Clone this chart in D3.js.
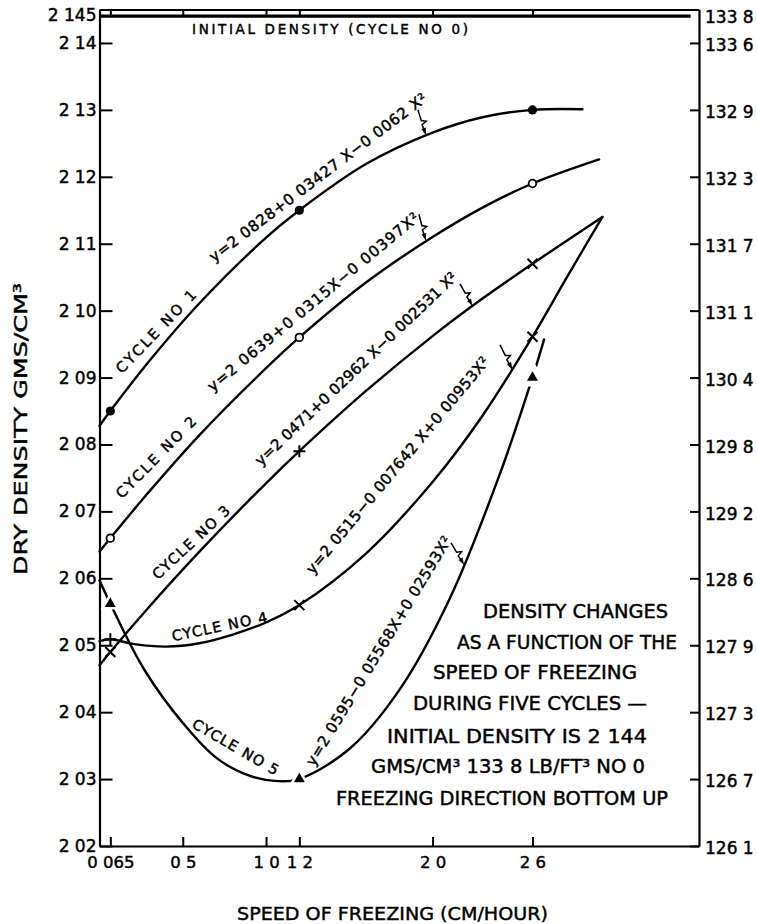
<!DOCTYPE html>
<html><head><meta charset="utf-8">
<script src="https://cdn.jsdelivr.net/npm/d3@7"></script>
<style>
html,body{margin:0;padding:0;background:#fff;}
svg{display:block;font-family:"DejaVu Sans",sans-serif;}
</style></head><body>
<svg id="chart" width="757" height="924"></svg>
<script>
// ---------------- data ----------------
const markerSpeeds = [0.065, 1.2, 2.6];
const cycle0 = [[0, 2.144], [3.55, 2.144]];
const cycle1 = [[0,2.0828],[0.065,2.0850],[0.3,2.0925],[0.6,2.1011],[1.0,2.1109],[1.2,2.1150],[1.6,2.1219],[2.0,2.1266],[2.3,2.1289],[2.6,2.1300],[2.9,2.1301]];
const cycle2 = [[0,2.0640],[0.065,2.0660],[0.3,2.0730],[0.6,2.0814],[1.0,2.0914],[1.2,2.0960],[1.6,2.1042],[2.0,2.1110],[2.3,2.1154],[2.6,2.1190],[3.0,2.1226]];
const cycle3 = [[0,2.0470],[0.065,2.0490],[0.3,2.0558],[0.6,2.0640],[1.0,2.0742],[1.2,2.0790],[1.6,2.0880],[2.0,2.0962],[2.3,2.1018],[2.6,2.1070],[3.02,2.1140]];
const cycle4 = [[0,2.0506],[0.065,2.0509],[0.2,2.0502],[0.4,2.0498],[0.6,2.0503],[0.8,2.0516],[1.0,2.0534],[1.2,2.0560],[1.6,2.0637],[2.0,2.0744],[2.3,2.0843],[2.6,2.0961],[2.8,2.1047],[3.02,2.1140]];
const cycle5 = [[0,2.0597],[0.065,2.0562],[0.27,2.0463],[0.5,2.0384],[0.7,2.0332],[0.9,2.0305],[1.07,2.0297],[1.2,2.0300],[1.5,2.0345],[1.8,2.0433],[2.1,2.0568],[2.4,2.0753],[2.6,2.0900],[2.67,2.0957]];

const yTickValues = [2.02,2.03,2.04,2.05,2.06,2.07,2.08,2.09,2.10,2.11,2.12,2.13,2.14,2.145];
const yTickLabels = ["2 02","2 03","2 04","2 05","2 06","2 07","2 08","2 09","2 10","2 11","2 12","2 13","2 14","2 145"];
const yRightLabels = ["126 1","126 7","127 3","127 9","128 6","129 2","129 8","130 4","131 1","131 7","132 3","132 9","133 6","133 8"];
const xTickValues = [0.065, 0.5, 1.0, 1.2, 2.0, 2.6];
const xTickLabels = ["0 065","0 5","1 0","1 2","2 0","2 6"];

const cycleNames = ["CYCLE NO 1","CYCLE NO 2","CYCLE NO 3","CYCLE NO 4","CYCLE NO 5"];
const equations = [
  "y=2 0828+0 03427 X\u22120 0062 X\u00B2",
  "y=2 0639+0 0315X\u22120 00397X\u00B2",
  "y=2 0471+0 02962 X\u22120 002531 X\u00B2",
  "y=2 0515\u22120 007642 X+0 00953X\u00B2",
  "y=2 0595\u22120 05568X+0 02593X\u00B2"
];
const initialLabel = "INITIAL DENSITY  (CYCLE NO 0)";
const noteLines = ["DENSITY CHANGES","AS A FUNCTION OF THE","SPEED OF FREEZING","DURING FIVE CYCLES \u2014","INITIAL DENSITY IS 2 144","GMS/CM\u00B3 133 8 LB/FT\u00B3 NO 0","FREEZING DIRECTION BOTTOM UP"];
const xTitle = "SPEED OF FREEZING (CM/HOUR)";
const yTitle = "DRY DENSITY  GMS/CM\u00B3";

// annotation anchors (data coordinates): baseline start / end
const nameAnchors = [
  [[0.135,2.0905],[0.587,2.1022]],
  [[0.135,2.0718],[0.587,2.0833]],
  [[0.351,2.0597],[0.790,2.0699]],
  [[0.441,2.0506],[1.012,2.0535]],
  [[0.550,2.0378],[1.054,2.0305]]
];
const eqAnchors = [
  [[0.688,2.1072],[1.973,2.1314]],
  [[0.680,2.0878],[1.925,2.1136]],
  [[0.970,2.0767],[2.153,2.1048]],
  [[1.282,2.0605],[2.345,2.0923]],
  [[1.288,2.0318],[2.117,2.0657]]
];
// leader arrows: tail -> tip (tip on the curve)
const arrowAnchors = [
  [[1.912,2.1300],[1.96,2.1262]],
  [[1.918,2.1144],[1.96,2.1104]],
  [[2.165,2.1040],[2.24,2.1007]],
  [[2.405,2.0949],[2.48,2.0911]],
  [[2.111,2.0653],[2.19,2.0620]]
];

// ---------------- drawing ----------------
const svg = d3.select("#chart");
const x = d3.scaleLinear().domain([0, 3.6]).range([99.5, 699]);
const y = d3.scaleLinear().domain([2.02, 2.145]).range([846, 9.5]);
const TXT_STROKE = 0.45;

function styleAxis(g){
  g.select(".domain").attr("stroke","#000").attr("stroke-width",2.2);
  g.selectAll(".tick line").attr("stroke","#000").attr("stroke-width",2);
  g.selectAll(".tick text").attr("fill","#000").attr("stroke","#000").attr("stroke-width",TXT_STROKE)
    .attr("font-size",17).attr("font-family","DejaVu Sans, sans-serif");
}

// left axis
const gL = svg.append("g").attr("transform",`translate(${x(0)},0)`)
  .call(d3.axisLeft(y).tickValues(yTickValues).tickFormat((d,i)=>yTickLabels[i]).tickSizeInner(-13).tickSizeOuter(0).tickPadding(3));
styleAxis(gL);
gL.selectAll(".tick text").filter((d)=>d===2.145).attr("dy","0.62em");

// right axis
const gR = svg.append("g").attr("transform",`translate(${x(3.6)},0)`)
  .call(d3.axisRight(y).tickValues(yTickValues).tickFormat((d,i)=>yRightLabels[i]).tickSizeInner(-9).tickSizeOuter(0).tickPadding(6));
styleAxis(gR);
gR.selectAll(".tick text").attr("dy","0.45em");
gR.selectAll(".tick text").filter((d)=>d===2.145).attr("dy","0.75em");
gR.selectAll(".tick line").filter((d)=>d===2.145).remove();

// bottom axis
const gB = svg.append("g").attr("transform",`translate(0,${y(2.02)})`)
  .call(d3.axisBottom(x).tickValues(xTickValues).tickFormat((d,i)=>xTickLabels[i]).tickSizeInner(-9).tickSizeOuter(0).tickPadding(10));
styleAxis(gB);
gB.selectAll(".tick text").attr("font-size",16.5);

// top frame
const gT = svg.append("g").attr("transform",`translate(0,${y(2.145)})`)
  .call(d3.axisTop(x).tickValues(xTickValues).tickFormat("").tickSizeInner(-7).tickSizeOuter(0));
styleAxis(gT);
gT.select(".domain").attr("stroke-width",1.8);

// curves
const line = d3.line().x(d=>x(d[0])).y(d=>y(d[1])).curve(d3.curveCatmullRom.alpha(0.5));
const lineLin = d3.line().x(d=>x(d[0])).y(d=>y(d[1]));
svg.append("path").attr("d",lineLin(cycle0)).attr("fill","none").attr("stroke","#000").attr("stroke-width",3.2);

const series = [cycle1, cycle2, cycle3, cycle4, cycle5];
series.forEach(s=>{
  svg.append("path").attr("d",line(s)).attr("fill","none").attr("stroke","#000").attr("stroke-width",2.4).attr("stroke-linecap","round");
});

// markers
const markerKinds = [["dot","dot","dot"],["ring","ring","ring"],["x","+","x"],["+","x","x"],["tri","tri","tri"]];
const gm = svg.append("g");
series.forEach((s,si)=>{
  markerSpeeds.forEach((ms,mi)=>{
    const p = s.find(d=>d[0]===ms);
    if(!p) return;
    const cx = x(p[0]), cy = y(p[1]);
    const kind = markerKinds[si][mi];
    if(kind==="dot"){
      gm.append("circle").attr("cx",cx).attr("cy",cy).attr("r",4.6).attr("fill","#000");
    } else if(kind==="ring"){
      gm.append("circle").attr("cx",cx).attr("cy",cy).attr("r",3.8).attr("fill","#fff").attr("stroke","#000").attr("stroke-width",1.8);
    } else if(kind==="x"){
      gm.append("path").attr("transform",`translate(${cx},${cy})`).attr("d","M-5,-5L5,5M-5,5L5,-5").attr("stroke","#000").attr("stroke-width",2).attr("fill","none");
    } else if(kind==="+"){
      gm.append("path").attr("transform",`translate(${cx},${cy})`).attr("d","M-6,0H6M0,-6V6").attr("stroke","#000").attr("stroke-width",2).attr("fill","none");
    } else {
      const halo = (mi===2) ? 420 : 170;
      gm.append("path").attr("transform",`translate(${cx},${cy})`).attr("d",d3.symbol(d3.symbolTriangle,halo)()).attr("fill","#fff");
      gm.append("path").attr("transform",`translate(${cx},${cy})`).attr("d",d3.symbol(d3.symbolTriangle,52)()).attr("fill","#000");
    }
  });
});

// rotated labels
function rotLabel(text, a, b, fs){
  const p0=[x(a[0]),y(a[1])], p1=[x(b[0]),y(b[1])];
  const ang = Math.atan2(p1[1]-p0[1], p1[0]-p0[0])*180/Math.PI;
  const len = Math.hypot(p1[0]-p0[0], p1[1]-p0[1]);
  svg.append("text").attr("transform",`translate(${p0[0]},${p0[1]}) rotate(${ang})`)
    .attr("font-size",fs).attr("fill","#000").attr("stroke","#000").attr("stroke-width",TXT_STROKE)
    .attr("textLength",len).attr("lengthAdjust","spacing").text(text);
}
cycleNames.forEach((t,i)=>rotLabel(t, nameAnchors[i][0], nameAnchors[i][1], 14.5));
equations.forEach((t,i)=>rotLabel(t, eqAnchors[i][0], eqAnchors[i][1], 15));

// leader arrows (squiggle)
arrowAnchors.forEach(([a,b])=>{
  const t0=[x(a[0]),y(a[1])], t1=[x(b[0]),y(b[1])];
  const dx=t1[0]-t0[0], dy=t1[1]-t0[1], L=Math.hypot(dx,dy);
  const ux=dx/L, uy=dy/L, nx=-uy, ny=ux;
  const P=(f,o)=>[t0[0]+ux*L*f+nx*o, t0[1]+uy*L*f+ny*o];
  const pts=[P(0,0),P(0.42,0),P(0.5,-4.5),P(0.58,0.5),P(0.8,0)];
  svg.append("path").attr("d",d3.line()(pts)).attr("fill","none").attr("stroke","#000").attr("stroke-width",1.5);
  const h1=P(0.72,2.3), h2=P(0.72,-2.3);
  svg.append("path").attr("d",`M${t1[0]},${t1[1]}L${h1[0]},${h1[1]}L${h2[0]},${h2[1]}Z`).attr("fill","#000");
});

// top label
svg.append("text").attr("x",192).attr("y",34).attr("font-size",13.5).attr("fill","#000")
  .attr("stroke","#000").attr("stroke-width",TXT_STROKE)
  .attr("textLength",276).attr("lengthAdjust","spacing").text(initialLabel);

// notes block
const noteLayout = [[483,618,185],[457,649,220],[433,679,204],[413,710,234],[387,743,260],[371,773,274],[336,805,332]];
noteLines.forEach((t,i)=>{
  const [lx,ly,lw]=noteLayout[i];
  svg.append("text").attr("x",lx).attr("y",ly).attr("font-size",19).attr("fill","#000")
    .attr("stroke","#000").attr("stroke-width",TXT_STROKE)
    .attr("textLength",lw).attr("lengthAdjust","spacingAndGlyphs").text(t);
});

// axis titles
svg.append("text").attr("x",237).attr("y",920).attr("font-size",18.5).attr("fill","#000")
  .attr("stroke","#000").attr("stroke-width",TXT_STROKE)
  .attr("textLength",311).attr("lengthAdjust","spacingAndGlyphs").text(xTitle);
svg.append("text").attr("transform","translate(27,575) rotate(-90)").attr("font-size",18.5).attr("fill","#000")
  .attr("stroke","#000").attr("stroke-width",TXT_STROKE)
  .attr("textLength",292).attr("lengthAdjust","spacingAndGlyphs").text(yTitle);
</script>
</body></html>
